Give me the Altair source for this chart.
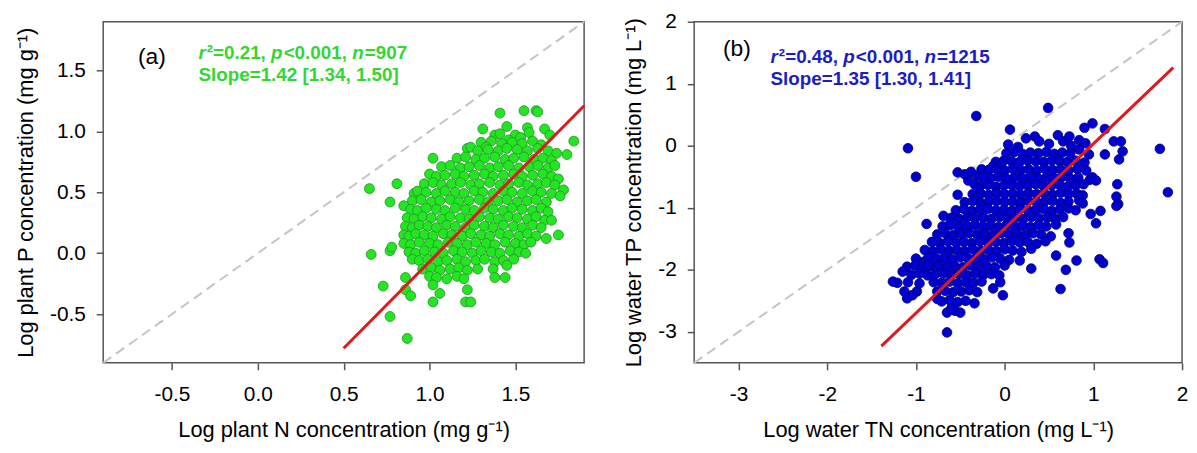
import altair as alt
import pandas as pd

# ---------------- data ----------------
# panel (a): log plant N (x) vs log plant P (y)
a_pts = [
    (1.55, 1.17), (1.62, 1.17), (1.63, 1.16), (1.41, 1.15), (1.31, 1.02), (1.45, 1.04), (1.57, 1.03),
    (1.38, 0.97), (1.41, 0.98), (1.50, 0.97), (1.58, 0.99), (1.53, 0.95), (1.46, 0.93), (1.67, 1.02),
    (1.70, 0.97), (1.84, 0.92),
    (1.30, 0.91), (1.36, 0.92), (1.42, 0.90), (1.48, 0.91), (1.54, 0.90), (1.60, 0.92), (1.65, 0.89), (1.33, 0.87),
    (1.22, 0.86), (1.24, 0.87), (1.28, 0.84), (1.34, 0.85), (1.40, 0.84), (1.45, 0.86), (1.51, 0.85),
    (1.57, 0.84), (1.63, 0.86), (1.69, 0.84), (1.74, 0.82), (1.80, 0.81),
    (1.02, 0.78), (1.16, 0.78), (1.21, 0.79), (1.27, 0.77), (1.32, 0.78), (1.38, 0.79), (1.44, 0.77),
    (1.49, 0.78), (1.55, 0.79), (1.61, 0.77), (1.66, 0.78), (1.71, 0.76),
    (1.07, 0.71), (1.12, 0.72), (1.18, 0.70), (1.23, 0.71), (1.29, 0.72), (1.35, 0.70), (1.40, 0.71),
    (1.46, 0.72), (1.52, 0.70), (1.58, 0.71), (1.63, 0.72), (1.69, 0.70), (1.73, 0.72),
    (1.00, 0.65), (1.04, 0.63), (1.09, 0.64), (1.15, 0.65), (1.20, 0.63), (1.26, 0.64), (1.32, 0.65),
    (1.37, 0.63), (1.43, 0.64), (1.49, 0.65), (1.54, 0.63), (1.60, 0.64), (1.66, 0.65), (1.71, 0.63), (1.75, 0.61),
    (0.81, 0.57), (0.97, 0.57), (1.02, 0.58), (1.07, 0.56), (1.13, 0.57), (1.18, 0.58), (1.24, 0.56),
    (1.29, 0.57), (1.35, 0.58), (1.41, 0.56), (1.46, 0.57), (1.52, 0.58), (1.57, 0.56), (1.63, 0.57),
    (1.68, 0.58), (1.73, 0.56),
    (0.65, 0.53), (0.91, 0.49), (0.93, 0.51), (0.98, 0.50), (1.04, 0.49), (1.09, 0.51), (1.15, 0.50),
    (1.20, 0.49), (1.26, 0.51), (1.31, 0.50), (1.37, 0.49), (1.43, 0.51), (1.48, 0.50), (1.54, 0.49),
    (1.60, 0.51), (1.65, 0.50), (1.71, 0.49), (1.78, 0.52), (1.76, 0.47),
    (0.77, 0.42), (0.90, 0.43), (0.95, 0.44), (1.01, 0.42), (1.06, 0.43), (1.12, 0.44), (1.17, 0.42),
    (1.23, 0.43), (1.29, 0.44), (1.34, 0.42), (1.40, 0.43), (1.45, 0.44), (1.51, 0.42), (1.57, 0.43),
    (1.62, 0.44), (1.68, 0.42),
    (0.85, 0.39), (0.89, 0.36), (0.93, 0.35), (0.98, 0.37), (1.04, 0.36), (1.09, 0.35), (1.15, 0.37),
    (1.21, 0.36), (1.26, 0.35), (1.32, 0.37), (1.37, 0.36), (1.43, 0.35), (1.48, 0.37), (1.54, 0.36),
    (1.60, 0.35), (1.65, 0.37), (1.69, 0.34),
    (0.87, 0.29), (0.91, 0.28), (0.96, 0.30), (1.01, 0.29), (1.07, 0.28), (1.12, 0.30), (1.18, 0.29),
    (1.23, 0.28), (1.29, 0.30), (1.35, 0.29), (1.40, 0.28), (1.46, 0.30), (1.51, 0.29), (1.57, 0.28),
    (1.62, 0.30), (1.67, 0.27), (1.71, 0.27),
    (0.86, 0.22), (0.90, 0.21), (0.94, 0.23), (0.99, 0.22), (1.04, 0.21), (1.10, 0.23), (1.15, 0.22),
    (1.21, 0.21), (1.26, 0.23), (1.32, 0.22), (1.37, 0.21), (1.43, 0.23), (1.49, 0.22), (1.54, 0.21),
    (1.60, 0.23), (1.65, 0.21),
    (0.85, 0.15), (0.88, 0.14), (0.92, 0.16), (0.97, 0.15), (1.02, 0.14), (1.08, 0.16), (1.13, 0.15),
    (1.19, 0.14), (1.24, 0.16), (1.30, 0.15), (1.35, 0.14), (1.41, 0.16), (1.46, 0.15), (1.52, 0.14),
    (1.57, 0.16), (1.62, 0.14), (1.75, 0.15), (1.68, 0.12),
    (0.85, 0.08), (0.89, 0.07), (0.94, 0.09), (1.00, 0.08), (1.05, 0.07), (1.11, 0.09), (1.16, 0.08),
    (1.22, 0.07), (1.27, 0.09), (1.33, 0.08), (1.38, 0.07), (1.44, 0.09), (1.50, 0.08), (1.55, 0.07), (1.59, 0.09),
    (0.77, 0.02), (0.78, 0.05), (0.66, -0.01), (0.88, 0.01), (0.92, 0.00), (0.97, 0.02), (1.03, 0.01),
    (1.08, 0.00), (1.14, 0.02), (1.19, 0.01), (1.25, 0.00), (1.30, 0.02), (1.36, 0.01), (1.41, 0.00),
    (1.47, 0.02), (1.52, 0.01), (1.56, 0.00),
    (0.90, -0.05), (0.94, -0.06), (0.99, -0.05), (1.05, -0.07), (1.10, -0.06), (1.16, -0.05), (1.21, -0.07),
    (1.27, -0.06), (1.32, -0.05), (1.38, -0.07), (1.43, -0.06), (1.49, -0.05),
    (0.96, -0.13), (1.01, -0.12), (1.06, -0.14), (1.12, -0.13), (1.17, -0.12), (1.22, -0.14), (1.28, -0.13),
    (1.37, -0.13), (1.45, -0.10),
    (0.86, -0.20), (1.00, -0.19), (1.04, -0.20), (1.10, -0.21), (1.16, -0.19), (1.20, -0.21), (1.38, -0.20),
    (1.44, -0.20),
    (1.02, -0.26), (0.73, -0.27), (1.22, -0.30), (0.86, -0.30), (0.89, -0.35), (1.06, -0.33), (1.02, -0.40),
    (1.21, -0.40), (1.24, -0.40), (0.77, -0.52), (0.87, -0.70),
]

# panel (b): log water TN (x) vs log water TP (y)
b_pts = [
    (0.04, 0.02), (0.24, 0.12), (0.34, 0.15), (0.39, 0.07), (0.60, 0.17), (0.66, 0.07), (0.84, 0.09),
    (0.91, 0.04), (0.15, -0.02), (0.50, 0.03), (0.75, 0.00),
    (0.02, -0.12), (0.11, -0.10), (0.20, -0.13), (0.29, -0.11), (0.38, -0.12), (0.47, -0.10), (0.56, -0.13),
    (0.65, -0.11), (0.74, -0.12), (0.84, -0.06), (0.95, -0.14),
    (-0.10, -0.26), (-0.01, -0.24), (0.08, -0.25), (0.17, -0.26), (0.26, -0.24), (0.35, -0.25), (0.44, -0.26),
    (0.53, -0.24), (0.62, -0.25), (0.71, -0.26), (0.80, -0.24), (0.90, -0.27),
    (-0.53, -0.43), (-0.45, -0.46), (-0.38, -0.42), (-0.31, -0.48), (-0.26, -0.38), (-0.13, -0.33),
    (-0.04, -0.30), (-0.18, -0.39), (-0.09, -0.38), (0.00, -0.40), (0.09, -0.37), (0.18, -0.39), (0.27, -0.38),
    (0.36, -0.40), (0.45, -0.37), (0.54, -0.39), (0.63, -0.38), (0.72, -0.40), (0.82, -0.37), (0.92, -0.40),
    (-0.41, -0.56), (-0.25, -0.51), (-0.16, -0.52), (-0.07, -0.50), (0.02, -0.53), (0.11, -0.51), (0.20, -0.52),
    (0.29, -0.50), (0.38, -0.53), (0.47, -0.51), (0.56, -0.52), (0.65, -0.50), (0.74, -0.53), (0.83, -0.51),
    (0.96, -0.55),
    (-0.34, -0.62), (-0.28, -0.65), (-0.19, -0.63), (-0.10, -0.66), (-0.01, -0.64), (0.08, -0.63), (0.17, -0.65),
    (0.26, -0.64), (0.35, -0.62), (0.44, -0.65), (0.53, -0.64), (0.62, -0.63), (0.71, -0.66), (0.80, -0.64),
    (0.89, -0.62),
    (-0.30, -0.69), (-0.36, -0.78), (-0.27, -0.77), (-0.18, -0.79), (-0.09, -0.76), (0.00, -0.78), (0.09, -0.77),
    (0.18, -0.79), (0.27, -0.76), (0.36, -0.78), (0.45, -0.77), (0.54, -0.79), (0.63, -0.76), (0.72, -0.78),
    (0.81, -0.77), (0.88, -0.80),
    (-0.30, -0.83), (-0.45, -0.91), (-0.36, -0.89), (-0.27, -0.92), (-0.18, -0.90), (-0.09, -0.89), (0.00, -0.91),
    (0.09, -0.90), (0.18, -0.92), (0.27, -0.89), (0.36, -0.91), (0.45, -0.90), (0.54, -0.89), (0.63, -0.92),
    (0.72, -0.90), (0.84, -0.88),
    (-0.26, -0.98), (-0.55, -1.04), (-0.46, -1.02), (-0.37, -1.05), (-0.28, -1.03), (-0.19, -1.02), (-0.10, -1.04),
    (-0.01, -1.03), (0.08, -1.05), (0.17, -1.02), (0.26, -1.04), (0.35, -1.03), (0.44, -1.02), (0.53, -1.05),
    (0.62, -1.03), (0.72, -1.01), (0.80, -1.04),
    (-0.60, -1.16), (-0.51, -1.18), (-0.42, -1.15), (-0.33, -1.17), (-0.24, -1.16), (-0.15, -1.18), (-0.06, -1.15),
    (0.03, -1.17), (0.12, -1.16), (0.21, -1.18), (0.30, -1.15), (0.39, -1.17), (0.48, -1.16), (0.57, -1.18),
    (0.66, -1.15),
    (-0.70, -1.30), (-0.61, -1.28), (-0.52, -1.31), (-0.43, -1.29), (-0.34, -1.28), (-0.25, -1.30), (-0.16, -1.29),
    (-0.07, -1.31), (0.02, -1.28), (0.11, -1.30), (0.20, -1.29), (0.29, -1.31), (0.38, -1.28), (0.47, -1.30),
    (0.58, -1.27),
    (-0.76, -1.43), (-0.67, -1.41), (-0.58, -1.44), (-0.49, -1.42), (-0.40, -1.41), (-0.31, -1.43), (-0.22, -1.42),
    (-0.13, -1.44), (-0.04, -1.41), (0.05, -1.43), (0.14, -1.42), (0.23, -1.44), (0.32, -1.41), (0.41, -1.43),
    (0.52, -1.46),
    (-0.82, -1.55), (-0.73, -1.57), (-0.64, -1.54), (-0.55, -1.56), (-0.46, -1.55), (-0.37, -1.57), (-0.28, -1.54),
    (-0.19, -1.56), (-0.10, -1.55), (-0.01, -1.57), (0.08, -1.54), (0.17, -1.56), (0.26, -1.55), (0.36, -1.58),
    (0.46, -1.54),
    (-0.90, -1.68), (-0.81, -1.70), (-0.72, -1.67), (-0.63, -1.69), (-0.54, -1.68), (-0.45, -1.70), (-0.36, -1.67),
    (-0.27, -1.69), (-0.18, -1.68), (-0.09, -1.70), (0.00, -1.67), (0.09, -1.69), (0.19, -1.71), (0.30, -1.66),
    (-1.00, -1.82), (-0.91, -1.87), (-0.86, -1.80), (-0.77, -1.82), (-0.68, -1.81), (-0.59, -1.83), (-0.50, -1.80),
    (-0.41, -1.82), (-0.32, -1.81), (-0.23, -1.83), (-0.14, -1.80), (-0.05, -1.82), (0.05, -1.84), (0.17, -1.85),
    (-1.10, -1.95), (-1.15, -2.03), (-1.01, -1.93), (-0.92, -1.96), (-0.83, -1.94), (-0.74, -1.93), (-0.65, -1.95),
    (-0.56, -1.94), (-0.47, -1.96), (-0.38, -1.93), (-0.29, -1.95), (-0.20, -1.94), (-0.11, -1.96), (0.00, -1.93),
    (0.30, -1.98),
    (-1.05, -2.08), (-0.96, -2.06), (-0.87, -2.09), (-0.78, -2.07), (-0.69, -2.06), (-0.60, -2.08), (-0.51, -2.07),
    (-0.42, -2.09), (-0.33, -2.06), (-0.24, -2.08), (-0.15, -2.07), (-0.06, -2.09),
    (-1.21, -2.21), (-1.26, -2.19), (-1.09, -2.20), (-0.96, -2.22), (-0.80, -2.20), (-0.71, -2.21), (-0.62, -2.19),
    (-0.53, -2.22), (-0.44, -2.20), (-0.35, -2.21), (-0.26, -2.19), (-0.13, -2.30), (-0.05, -2.20),
    (-1.13, -2.35), (-0.99, -2.35), (-0.76, -2.35), (-0.67, -2.34), (-0.58, -2.36), (-0.49, -2.35), (-0.40, -2.33),
    (-0.31, -2.36), (-0.02, -2.41), (-1.04, -2.41), (-1.10, -2.46),
    (-0.71, -2.51), (-0.62, -2.49), (-0.53, -2.52), (-0.44, -2.50), (-0.34, -2.54), (-0.76, -2.47),
    (-0.65, -2.69), (-0.56, -2.66), (-0.50, -2.69), (-0.60, -2.62), (-0.65, -3.01),
    (-1.09, -0.04), (-1.00, -0.50), (-0.32, 0.48), (0.49, 0.61), (0.06, 0.26), (-0.88, -1.26), (-0.69, -1.13),
    (-0.61, -1.24), (-0.53, -0.79), (1.75, -0.05), (1.84, -0.75), (0.99, 0.36), (0.90, 0.29), (1.13, 0.27),
    (0.73, 0.15), (1.23, 0.07), (1.31, 0.07), (1.33, -0.09), (1.29, -0.22), (1.13, -0.14), (1.27, -0.62),
    (1.26, -0.82), (1.28, -0.94), (1.26, -0.97), (1.08, -1.05), (1.03, -1.25), (0.99, -0.51), (1.03, -0.56),
    (0.88, -0.93), (0.97, -1.10), (1.07, -1.83), (1.11, -1.89), (0.81, -1.85), (0.69, -2.00), (0.63, -2.31),
    (0.58, -1.77), (0.73, -1.56), (0.72, -1.41), (-0.86, -1.93),
]

a_domain = [-0.9, 1.9]
a_ticks = [-0.5, 0.0, 0.5, 1.0, 1.5]
a_fit_x = [0.5, 1.9]
a_fit_y = [-0.78, 1.21]

b_domain = [-3.5, 2.0]
b_ticks = [-3, -2, -1, 0, 1, 2]
b_fit_x = [-1.39, 1.90]
b_fit_y = [-3.23, 1.26]

a_stats = ["r", "²=0.21, ", "p", "<0.001, ", "n", "=907"]
b_stats = ["r", "²=0.48, ", "p", "<0.001, ", "n", "=1215"]
a_slope = "Slope=1.42 [1.34, 1.50]"
b_slope = "Slope=1.35 [1.30, 1.41]"

FONT = "Liberation Sans"
BOLD_W = {'r': 389, '²': 333, '=': 584, '.': 278, ',': 278, ' ': 278, 'p': 611, '<': 584, 'n': 611}
HYPHEN = "replace(datum.label, '\u2212', '-')"


def text_w(s, size):
    return sum(BOLD_W.get(c, 556) for c in s) * size / 1000.0


def panel(pts, fill, stroke, dom, ticks, fmt, fit_x, fit_y, xtitle, ytitle,
          tag, tag_pos, stats, slope, txt_color, txt_pos, w, h, psize):
    df = pd.DataFrame(pts, columns=["x", "y"])
    sc = alt.Scale(domain=dom, nice=False, zero=False)
    X = alt.X("x:Q", scale=sc,
              axis=alt.Axis(values=ticks, format=fmt, title=xtitle, labelFlush=False,
                            labelExpr=HYPHEN))
    Y = alt.Y("y:Q", scale=sc,
              axis=alt.Axis(values=ticks, format=fmt, title=ytitle, labelFlush=False,
                            labelExpr=HYPHEN))

    diag = alt.Chart(pd.DataFrame({"x": dom, "y": dom})).mark_line(
        color="#c4c4c4", strokeDash=[10, 6], strokeWidth=2).encode(x=X, y=Y)
    pts_l = alt.Chart(df).mark_circle(
        size=psize, opacity=1, fill=fill, stroke=stroke, strokeWidth=0.8).encode(x=X, y=Y)
    fit = alt.Chart(pd.DataFrame({"x": fit_x, "y": fit_y})).mark_line(
        color="#e0191e", strokeWidth=3).encode(x=X, y=Y)

    one = pd.DataFrame({"k": [0]})
    layers = [diag, pts_l, fit]
    layers.append(alt.Chart(one).mark_text(
        text=tag, font=FONT, fontSize=23, align="left", baseline="middle", color="black"
    ).encode(x=alt.value(tag_pos[0]), y=alt.value(tag_pos[1])))

    x0, y1, y2 = txt_pos
    fs = 19
    cx = x0
    for i, seg in enumerate(stats):
        layers.append(alt.Chart(one).mark_text(
            text=seg, font=FONT, fontSize=fs, fontWeight="bold",
            fontStyle="italic" if i % 2 == 0 else "normal",
            align="left", baseline="middle", color=txt_color
        ).encode(x=alt.value(cx), y=alt.value(y1)))
        cx += text_w(seg, fs) + (1 if i % 2 == 0 else 0)
    layers.append(alt.Chart(one).mark_text(
        text=slope, font=FONT, fontSize=fs, fontWeight="bold",
        align="left", baseline="middle", color=txt_color
    ).encode(x=alt.value(x0), y=alt.value(y2)))

    return alt.layer(*layers).properties(width=w, height=h)


pa = panel(a_pts, "#22e622", "#2a8c2a", a_domain, a_ticks, ".1f", a_fit_x, a_fit_y,
           "Log plant N concentration (mg g⁻¹)", "Log plant P concentration (mg g⁻¹)",
           "(a)", (35, 36), a_stats, a_slope, "#33d633", (96, 32, 54), 485, 344, 100)
pb = panel(b_pts, "#0000d2", "#000070", b_domain, b_ticks, "d", b_fit_x, b_fit_y,
           "Log water TN concentration (mg L⁻¹)", "Log water TP concentration (mg L⁻¹)",
           "(b)", (29, 28), b_stats, b_slope, "#1c1cc4", (77, 36, 58), 492, 344, 95)

chart = alt.hconcat(pa, pb, spacing=111, bounds="flush").properties(
    padding={"left": 6, "top": 0, "right": 0, "bottom": 0}
).configure_view(
    stroke="#555555", strokeWidth=1.5
).configure_axis(
    domain=False, grid=False, ticks=True, tickSize=7, tickColor="#555555", tickWidth=1.5,
    labelFont=FONT, labelFontSize=21, labelColor="black",
    titleFont=FONT, titleFontSize=22, titleFontWeight="normal", titleColor="black",
).configure_axisX(
    labelPadding=14, titlePadding=15
).configure_axisY(
    labelPadding=11, titlePadding=12
)

chart.save("out.html", embed_options={"renderer": "svg", "actions": False})
